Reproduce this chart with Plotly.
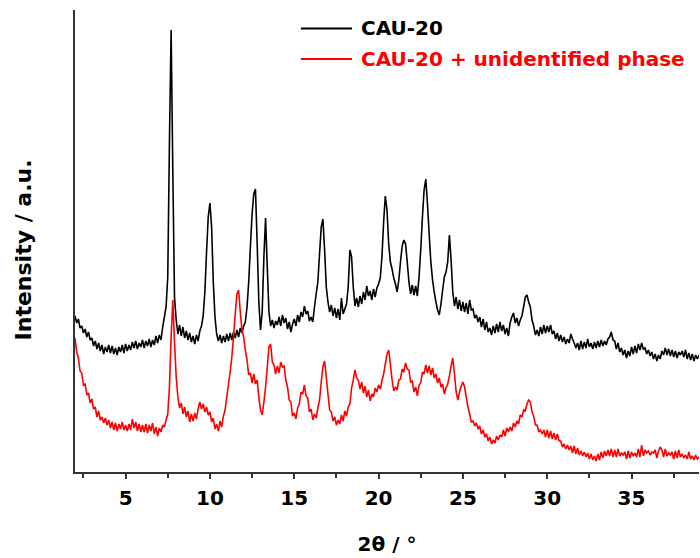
import plotly.graph_objects as go

# Powder XRD patterns, 2θ scan from 2.0° to 39.0° in 0.1° steps (intensity in a.u., black offset upward)
two_theta = [round(2.0 + 0.1 * i, 1) for i in range(371)]

cau20 = [
    156, 149, 153, 144, 146, 139, 143, 135, 140, 132,
    134, 126, 131, 123, 129, 121, 127, 118, 125, 120,
    127, 119, 126, 118, 124, 117, 125, 120, 127, 119,
    128, 121, 127, 122, 130, 124, 131, 123, 129, 125,
    132, 124, 131, 126, 133, 125, 132, 127, 136, 129,
    137, 132, 145, 155, 165, 195, 330, 442, 300, 175,
    152, 138, 147, 136, 145, 134, 141, 132, 139, 130,
    136, 128, 137, 131, 141, 146, 156, 180, 220, 255,
    269, 245, 190, 155, 138, 131, 137, 129, 136, 130,
    138, 131, 139, 132, 140, 134, 142, 135, 144, 139,
    146, 150, 165, 190, 225, 258, 278, 283, 230, 170,
    142, 160, 215, 254, 205, 160, 146, 152, 144, 151,
    147, 155, 146, 157, 149, 154, 143, 150, 140, 148,
    153, 146, 157, 150, 160, 155, 166, 158, 161, 151,
    155, 150, 165, 178, 190, 218, 245, 253, 222, 185,
    170, 160, 167, 156, 164, 154, 163, 152, 174, 158,
    163, 168, 185, 222, 215, 185, 166, 174, 165, 176,
    168, 180, 172, 186, 176, 181, 172, 183, 175, 184,
    188, 194, 215, 250, 276, 262, 228, 210, 203, 194,
    188, 180, 192, 210, 226, 232, 228, 210, 190, 178,
    187, 177, 186, 176, 195, 222, 255, 282, 293, 268,
    238, 210, 192, 180, 170, 162, 157, 168, 182, 195,
    200, 210, 237, 212, 180, 166, 175, 163, 172, 161,
    170, 160, 169, 158, 172, 162, 163, 154, 157, 150,
    155, 145, 153, 142, 150, 140, 144, 137, 146, 139,
    148, 140, 150, 141, 147, 138, 144, 136, 149, 155,
    159, 149, 154, 146, 152, 156, 165, 175, 177, 170,
    165, 152, 146, 137, 142, 136, 145, 138, 147, 139,
    146, 140, 147, 138, 141, 133, 139, 131, 137, 130,
    135, 128, 133, 129, 138, 133, 129, 124, 129, 122,
    131, 123, 130, 124, 133, 125, 129, 123, 130, 124,
    131, 125, 132, 126, 131, 127, 133, 135, 140, 132,
    131, 123, 129, 120, 124, 117, 122, 114, 121, 116,
    125, 118, 126, 119, 128, 122, 129, 123, 124, 118,
    122, 116, 120, 113, 118, 111, 117, 113, 121, 117,
    124, 117, 123, 116, 122, 115, 121, 114, 120, 117,
    121, 115, 122, 113, 119, 112, 118, 111, 117, 113,
    117,
]

cau20_unidentified = [
    134, 120, 114, 101, 99, 87, 88, 77, 79, 69,
    73, 63, 65, 55, 61, 52, 55, 49, 54, 47,
    52, 44, 50, 42, 49, 41, 48, 43, 50, 42,
    47, 41, 48, 42, 53, 44, 50, 41, 48, 40,
    47, 40, 48, 39, 47, 41, 49, 38, 45, 36,
    44, 40, 47, 45, 52, 58, 85, 135, 172, 130,
    95, 75, 64, 69, 58, 65, 55, 61, 50, 58,
    51, 59, 53, 63, 70, 63, 68, 60, 65, 57,
    60, 50, 54, 43, 48, 41, 51, 45, 56, 62,
    75, 88, 100, 115, 135, 158, 178, 182, 160, 142,
    135, 122, 112, 97, 99, 89, 98, 88, 92, 75,
    62, 57, 70, 85, 105, 125, 128, 110, 107, 98,
    106, 99, 110, 105, 106, 92, 85, 72, 70, 56,
    59, 53, 64, 68, 80, 78, 87, 76, 74, 60,
    63, 52, 58, 54, 64, 72, 90, 105, 111, 95,
    78, 62, 60, 51, 55, 47, 52, 48, 57, 51,
    61, 56, 65, 68, 84, 92, 102, 94, 92, 83,
    90, 79, 86, 75, 82, 71, 78, 75, 84, 80,
    87, 83, 91, 98, 108, 118, 122, 108, 92, 81,
    85, 82, 92, 93, 103, 100, 109, 103, 102, 90,
    91, 80, 85, 76, 87, 89, 100, 98, 107, 99,
    106, 97, 104, 94, 98, 89, 94, 85, 88, 78,
    84, 88, 96, 106, 114, 98, 80, 72, 80, 86,
    90, 85, 75, 65, 58, 50, 51, 46, 49, 43,
    46, 38, 42, 35, 38, 31, 35, 28, 32, 29,
    36, 32, 37, 35, 42, 36, 44, 40, 45, 41,
    49, 45, 51, 48, 57, 55, 62, 61, 68, 72,
    70, 60, 56, 47, 47, 40, 42, 38, 42, 35,
    42, 34, 41, 33, 39, 32, 38, 31, 31, 25,
    28, 23, 27, 22, 26, 19, 26, 18, 24, 17,
    21, 16, 20, 15, 19, 13, 18, 12, 16, 11,
    18, 12, 20, 14, 21, 16, 22, 16, 23, 15,
    22, 15, 23, 16, 19, 17, 20, 13, 21, 14,
    20, 16, 19, 15, 23, 15, 27, 16, 22, 19,
    21, 17, 20, 19, 22, 14, 21, 25, 22, 15,
    23, 16, 19, 17, 20, 13, 21, 14, 22, 15,
    18, 14, 17, 13, 20, 13, 16, 12, 17, 13,
    15,
]

series_names = ["CAU-20", "CAU-20 + unidentified phase"]
series_colors = ["#000000", "#ff0000"]
x_ticks = [5, 10, 15, 20, 25, 30, 35]
x_minor_ticks = [2.5, 7.5, 12.5, 17.5, 22.5, 27.5, 32.5, 37.5]

FONT = "DejaVu Sans"
AXIS_COLOR = "#333333"

fig = go.Figure()
for name, ys, color in zip(series_names, [cau20, cau20_unidentified], series_colors):
    fig.add_trace(go.Scatter(
        x=two_theta, y=ys, mode="lines", name=name,
        line=dict(color=color, width=1.6, simplify=False), showlegend=False,
    ))

# Legend drawn as short line samples with bold coloured labels
legend_rows = [0.960, 0.894]
for name, color, ly in zip(series_names, series_colors, legend_rows):
    fig.add_shape(type="line", xref="paper", yref="paper",
                  x0=0.362, x1=0.444, y0=ly, y1=ly,
                  line=dict(color=color, width=2))
    fig.add_annotation(xref="paper", yref="paper", x=0.455, y=ly,
                       xanchor="left", yanchor="middle", showarrow=False,
                       text=f"<b>{name}</b>",
                       font=dict(family=FONT, size=20, color=color))

# Vertical axis title
fig.add_annotation(xref="paper", yref="paper", x=-0.083, y=0.48,
                   xanchor="center", yanchor="middle", showarrow=False,
                   textangle=-90, text="<b>Intensity / a.u.</b>",
                   font=dict(family=FONT, size=22, color="#000000"))

fig.update_layout(
    width=700, height=558,
    margin=dict(l=75, r=1, t=10, b=86),
    plot_bgcolor="white", paper_bgcolor="white",
    font=dict(family=FONT, size=20, color="#000000"),
)
fig.update_xaxes(
    range=[2, 39], tickvals=x_ticks, ticks="outside", ticklen=5, tickwidth=2,
    tickcolor=AXIS_COLOR, showline=True, linecolor=AXIS_COLOR, linewidth=2,
    showgrid=False, zeroline=False, tickfont=dict(family=FONT, size=20, weight="bold"),
    ticklabelstandoff=2,
    minor=dict(tickvals=x_minor_ticks, ticks="outside", ticklen=4, tickwidth=2,
               tickcolor=AXIS_COLOR),
    title=dict(text="<b>2θ / °</b>", font=dict(family=FONT, size=20), standoff=28),
)
fig.update_yaxes(
    range=[0, 462], showticklabels=False, ticks="", showline=True,
    linecolor=AXIS_COLOR, linewidth=2, showgrid=False, zeroline=False,
)

fig.write_html("out.html")
